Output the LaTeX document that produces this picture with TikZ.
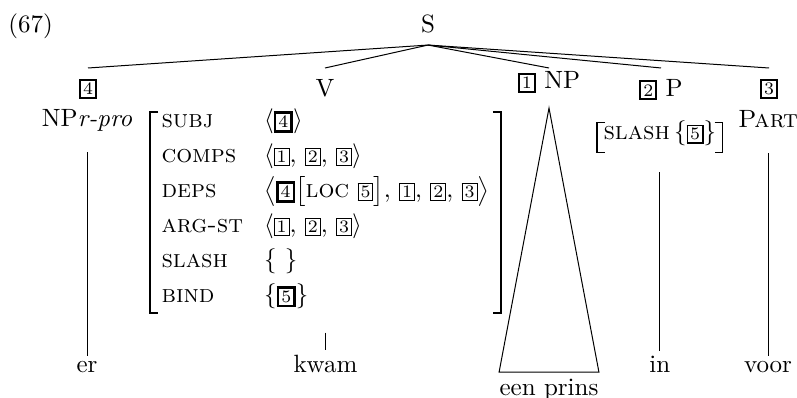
\documentclass[tikz,border=0pt]{standalone}
\usepackage{amsmath}
\usepackage{tikz}

% boxed index tag, optional rule width
\newcommand{\tagbox}[2][0.4pt]{{\setlength{\fboxrule}{#1}\setlength{\fboxsep}{0.8pt}\fbox{\scriptsize #2}}}
% square brackets round an AVM node
\newcommand{\avmbrackets}[2][]{%
  \draw[brk,#1] ([xshift=3.2pt]#2.north west) -- (#2.north west) -- (#2.south west) -- ([xshift=3.2pt]#2.south west);
  \draw[brk,#1] ([xshift=-3.2pt]#2.north east) -- (#2.north east) -- (#2.south east) -- ([xshift=-3.2pt]#2.south east);}

\tikzset{
  x=0.4pt, y=-0.4pt,
  dtr/.style={anchor=north, inner xsep=0pt, inner ysep=4.2pt},
  cat/.style={anchor=base, inner sep=0pt, text depth=2pt},
  word/.style={anchor=base, inner xsep=0pt, inner ysep=1.6pt},
  proj/.style={shorten <=8pt},
  brk/.style={line width=0.8pt, line join=miter},
}

\begin{document}
\begin{tikzpicture}
\useasboundingbox (0,0) rectangle (797,398);

% number and root
\node[anchor=base west, inner sep=0pt] (exnum) at (8,33) {(67)};
\node[anchor=base, inner xsep=0pt, inner ysep=4.4pt] (S) at (428,33) {S};

% daughters of S
\node[dtr] (t4) at (88,68) {\tagbox[0.8pt]{4}};
\node[dtr] (vlab) at (325,68) {V};
\node[dtr, inner ysep=1.2pt] (np1) at (549,68) {\tagbox[0.8pt]{1} NP};
\node[dtr] (p2) at (661,68) {\tagbox[0.8pt]{2} P};
\node[dtr] (t3) at (769,68) {\tagbox[0.8pt]{3}};

\foreach \d in {t4,vlab,np1,p2,t3}
  \draw (S.south) -- (\d.north);

% categories under the tags
\node[cat] (np4) at (87,127) {NP\textit{r-pro}};
\node[cat] (part) at (768,128) {\textsc{Part}};

% verb AVM
\node[anchor=base west, inner xsep=4.4pt, inner ysep=0pt, text height=6pt, text depth=73.6pt] (vavm) at (150,128) {%
  \begin{tabular}[t]{@{}p{41pt}@{}l@{}}
  \textsc{subj}   & $\langle\tagbox[1.1pt]{4}\rangle$ \\[1.92pt]
  \textsc{comps}  & $\langle\tagbox{1},\,\tagbox{2},\,\tagbox{3}\rangle$ \\[1.92pt]
  \textsc{deps}   & $\left\langle\tagbox[1.1pt]{4}\bigl[\text{\textsc{loc} \tagbox{5}}\bigr],\,\tagbox{1},\,\tagbox{2},\,\tagbox{3}\right\rangle$ \\[1.92pt]
  \textsc{arg-st} & $\langle\tagbox{1},\,\tagbox{2},\,\tagbox{3}\rangle$ \\[1.92pt]
  \textsc{slash}  & $\{\ \}$ \\[1.92pt]
  \textsc{bind}   & $\{\tagbox[1.1pt]{5}\}$
  \end{tabular}};
\avmbrackets{vavm}

% preposition AVM
\node[anchor=base west, inner xsep=2.4pt, inner ysep=0pt, text height=6.8pt, text depth=4.8pt] (pavm) at (597,140) {\textsc{slash}\,$\{\tagbox[0.6pt]{5}\}$};
\avmbrackets[line width=0.5pt]{pavm}

% words
\node[word] (er) at (np4 |- 0,372) {er};
\node[word] (kwam) at (vavm.south |- 0,372) {kwam};
\node[word] (inword) at (pavm.south |- 0,372) {in};
\node[word] (voor) at (part |- 0,372) {voor};
\node[anchor=base, inner xsep=0pt, inner ysep=2.4pt] (prins) at (np1 |- 0,395) {een prins};

\draw[proj] (np4) -- (er);
\draw[proj] (vavm.south) -- (kwam);
\draw[proj] (pavm.south) -- (inword);
\draw[proj] (part) -- (voor);

% roof over the NP
\draw (np1.south) ++(0,12) -- (prins.north west) -- (prins.north east) -- cycle;

\end{tikzpicture}
\end{document}
